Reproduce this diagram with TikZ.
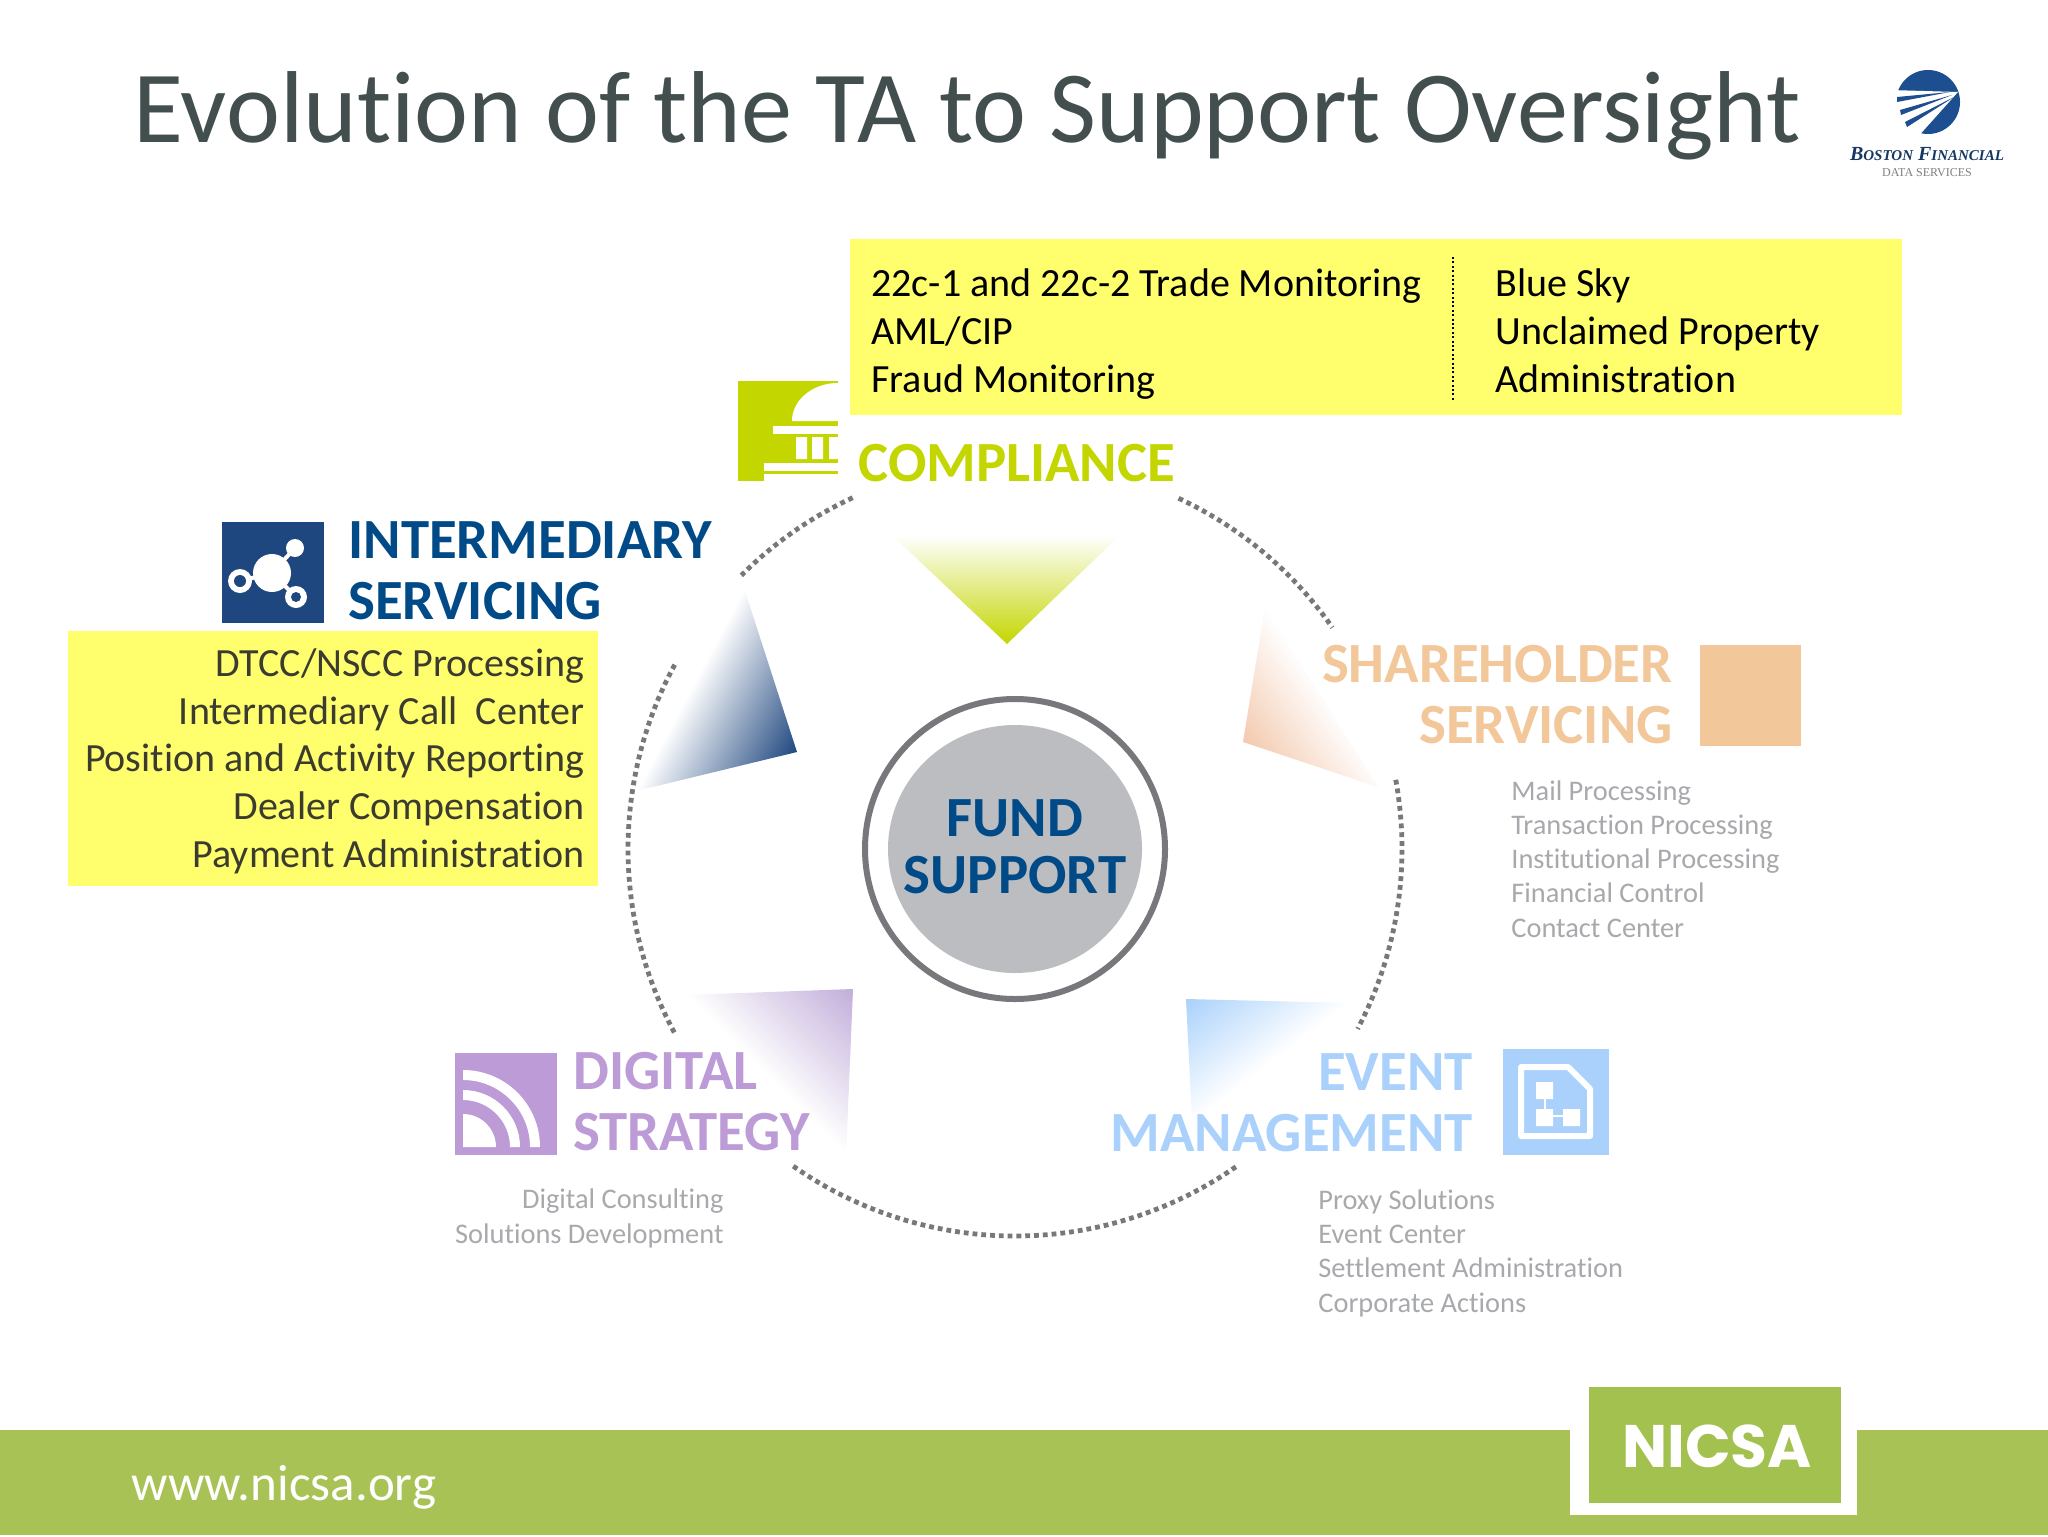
\documentclass[tikz,border=0pt]{standalone}
\usepackage{fontspec}
\setmainfont{Carlito}[Ligatures=NoCommon]
\newfontfamily\nicsafont{Poppins}
\newfontfamily\logofont{Liberation Serif}
\definecolor{yell}{HTML}{FFFF6D}
\definecolor{lime}{HTML}{C4D600}
\definecolor{navy}{HTML}{004B87}
\definecolor{navyb}{HTML}{1F477F}
\definecolor{peach}{HTML}{F2C799}
\definecolor{peachg}{HTML}{F3C9AE}
\definecolor{lilac}{HTML}{BC9BD6}
\definecolor{lilacg}{HTML}{C2AEDA}
\definecolor{sky}{HTML}{A9D1FB}
\definecolor{listgray}{HTML}{A7A9AC}
\definecolor{ringgray}{HTML}{77787B}
\definecolor{diskgray}{HTML}{BCBDC0}
\definecolor{footgreen}{HTML}{A9C256}
\definecolor{nicsagreen}{HTML}{A3C14E}
\definecolor{titlecol}{HTML}{434F4F}
\definecolor{darktext}{HTML}{3B3B30}
\definecolor{logoblue}{HTML}{1D4E8F}
\newcommand{\gradpoly}[6]{% points, sx, sy, angle, len, colour
  \begin{scope}
    \clip #1 -- cycle;
    \begin{scope}[transform canvas={shift={(#2,#3)},rotate=#4}]
      \shade[left color=white,middle color=#6!22!white,right color=#6] (0,-500) rectangle (#5,500);
    \end{scope}
  \end{scope}}
\tikzset{
  head/.style={font=\fontsize{28.4}{30.5}\selectfont\bfseries,inner sep=0pt,anchor=base},
  body/.style={font=\fontsize{20}{23.8}\selectfont,inner sep=0pt,anchor=base west},
  listtxt/.style={font=\fontsize{14.2}{17.05}\selectfont,text=listgray,inner sep=0pt},
  dots/.style={draw=ringgray,line width=2.4pt,dash pattern=on 2.4pt off 2pt},
}
\begin{document}
\begin{tikzpicture}[x=0.5pt,y=-0.5pt]
\useasboundingbox (0,0) rectangle (2048,1536);
\fill[white] (0,0) rectangle (2048,1536);
% title
\node[inner sep=0pt,anchor=base west,text=titlecol,font=\fontsize{51.1}{55}\selectfont] (title) at (133,142) {Evolution of the TA to Support Oversight};
% logo
\fill[logoblue] (1928,102) circle (32);
\fill[white] (1958,92) -- (1890,90) -- (1880,135) -- (1915,140) -- cycle;
\fill[logoblue] (1950,92) -- (1897,97) -- (1897,102) -- cycle;
\fill[logoblue] (1952,95) -- (1900,110) -- (1901,115) -- cycle;
\fill[logoblue] (1954,97) -- (1905,122) -- (1907,127) -- cycle;
\node[inner sep=0pt,anchor=base,text=logoblue!70!black,font=\logofont\itshape\bfseries\fontsize{10}{10}\selectfont] (logotxt) at (1927,160) {B{\fontsize{7.5}{8}\selectfont OSTON} F{\fontsize{7.5}{8}\selectfont INANCIAL}};
\node[inner sep=0pt,anchor=base,text=gray,font=\logofont\fontsize{6}{6}\selectfont] (logotxt2) at (1927,176) {DATA SERVICES};
% gradient shapes
\gradpoly{(892,535) -- (1120,535) -- (1007,644)}{892}{535}{-90}{109}{lime}
\gradpoly{(744,588) -- (797,752) -- (636,791)}{744}{588}{-28}{124}{navyb}
\gradpoly{(1265,607) -- (1243,742) -- (1378,787)}{1265}{607}{214.6}{95}{peachg}
\gradpoly{(1186,999) -- (1350,1003) -- (1194,1160)}{1350}{1003}{127}{102}{sky}
\gradpoly{(853,989) -- (686,995) -- (846,1156)}{686}{995}{45}{122}{lilacg}
% dotted ring
\coordinate (c) at (1015,849);
\draw[dots] (c) ++(-114.8:387) arc[start angle=-114.8,end angle=-135,radius=387];
\draw[dots] (c) ++(-65:387) arc[start angle=-65,end angle=-34.9,radius=387];
\draw[dots] (c) ++(-10.3:387) arc[start angle=-10.3,end angle=27.7,radius=387];
\draw[dots] (c) ++(55.2:387) arc[start angle=55.2,end angle=125,radius=387];
\draw[dots] (c) ++(151.7:387) arc[start angle=151.7,end angle=208.7,radius=387];
% centre
\fill[diskgray] (c) ellipse [x radius=127,y radius=124];
\draw[ringgray,line width=3pt] (c) circle (150);
\node[text=navy,align=center,inner sep=0pt,anchor=base,font=\fontsize{28.4}{28.5}\selectfont\bfseries] (fund) at (1015,893) {FUND\\SUPPORT};
% yellow boxes
\fill[yell] (850,239) rectangle (1902,415);
\fill[yell] (68,631) rectangle (598,886);
\draw[black,line width=1pt,dash pattern=on 1pt off 1.2pt] (1453,257) -- (1453,402);
\node[body,align=left] (ctl) at (871,392) {22c-1 and 22c-2 Trade Monitoring\\AML/CIP\\Fraud Monitoring};
\node[body,align=left] (ctr) at (1495,392) {Blue Sky\\Unclaimed Property\\Administration};
\node[body,anchor=base east,align=right,text=darktext] (intl) at (585,867) {DTCC/NSCC Processing\\Intermediary Call~~Center\\Position and Activity Reporting\\Dealer Compensation\\Payment Administration};
% compliance
\fill[lime] (738,381) rectangle (838,481);
\fill[white] (838,383) arc[start angle=-90,end angle=-180,x radius=46,y radius=38] -- (838,421) -- cycle;
\fill[white] (773,426) rectangle (838,434);
\fill[white] (796,437) rectangle (807,459) (812,437) rectangle (823,459) (829,437) rectangle (838,459);
\fill[white] (764,463) rectangle (838,471);
\fill[white] (764,474) rectangle (838,481);
\node[head,anchor=base west,text=lime] (comp) at (858,481) {COMPLIANCE};
% intermediary
\fill[navyb] (222,522) rectangle (324,623);
\draw[white,line width=2pt] (272,573) -- (295,548) (272,573) -- (240,581) (272,573) -- (296,597);
\fill[white] (272,573) circle (19) (295,548) circle (9);
\fill[white] (240,581) circle (12) (296,597) circle (11);
\fill[navyb] (240,581) circle (6) (296,597) circle (5);
\node[head,anchor=base west,text=navy,align=left] (inter) at (348,619) {INTERMEDIARY\\SERVICING};
% shareholder
\fill[peach] (1700,645) rectangle (1801,746);
\node[head,anchor=base east,text=peach,align=right] (share) at (1673,743) {SHAREHOLDER\\SERVICING};
\node[listtxt,anchor=base west,align=left] (sharel) at (1511,937) {Mail Processing\\Transaction Processing\\Institutional Processing\\Financial Control\\Contact Center};
% event
\fill[sky] (1503,1049) rectangle (1609,1155);
\draw[white,line width=3pt,line join=round] (1521,1067) -- (1568,1067) -- (1590,1089) -- (1590,1136) -- (1521,1136) -- cycle;
\fill[white] (1536,1082) rectangle (1553,1099) (1536,1109) rectangle (1553,1126) (1563,1109) rectangle (1580,1126);
\draw[white,line width=1.2pt] (1545,1099) -- (1545,1109) (1553,1116) -- (1563,1116);
\node[head,anchor=base east,text=sky,align=right] (event) at (1473,1151) {EVENT\\MANAGEMENT};
\node[listtxt,anchor=base west,align=left] (eventl) at (1318,1312) {Proxy Solutions\\Event Center\\Settlement Administration\\Corporate Actions};
% digital
\fill[lilac] (455,1053) rectangle (557,1155);
\fill[white] (463,1147) -- (463,1114) arc[start angle=-90,end angle=0,radius=33] -- cycle;
\fill[white] (463,1100) arc[start angle=-90,end angle=0,radius=47] -- ++(10,0) arc[start angle=0,end angle=-90,radius=57] -- cycle;
\fill[white] (463,1080) arc[start angle=-90,end angle=0,radius=67] -- ++(10,0) arc[start angle=0,end angle=-90,radius=77] -- cycle;
\node[head,anchor=base west,text=lilac,align=left] (dig) at (573,1150) {DIGITAL\\STRATEGY};
\node[listtxt,anchor=base east,align=right] (digl) at (724,1243) {Digital Consulting\\Solutions Development};
% footer
\fill[footgreen] (0,1430) rectangle (2048,1535);
\fill[white] (1570,1380) rectangle (1857,1515);
\fill[nicsagreen] (1589,1387) rectangle (1841,1503);
\node[inner sep=0pt,anchor=base,text=white,font=\nicsafont\bfseries\fontsize{30}{30}\selectfont] (nicsa) at (1717,1467) {NICSA};
\node[inner sep=0pt,anchor=base west,text=white,font=\fontsize{25.5}{27}\selectfont] (web) at (131,1500) {www.nicsa.org};
\end{tikzpicture}
\end{document}
